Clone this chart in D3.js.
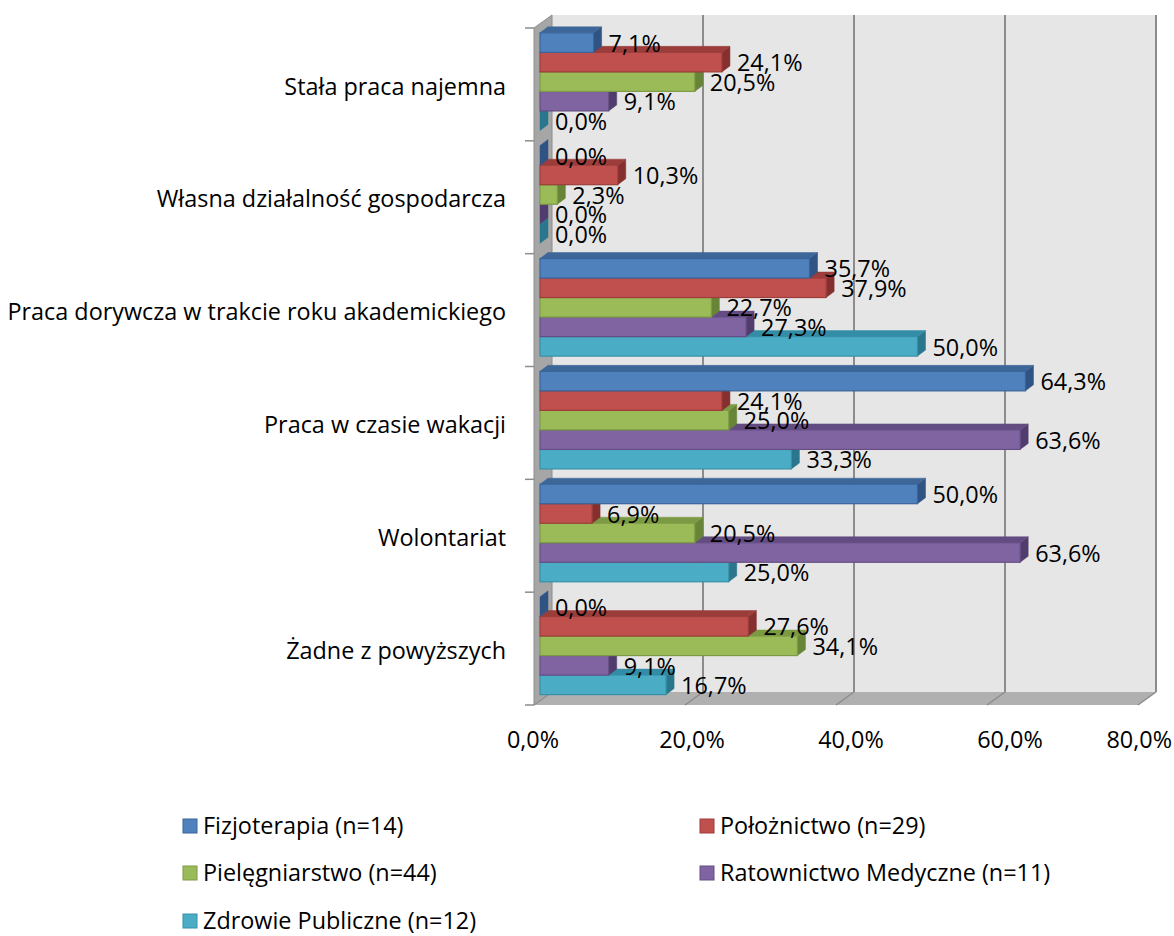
<!DOCTYPE html>
<html>
<head>
<meta charset="utf-8">
<script src="https://cdn.jsdelivr.net/npm/d3@7"></script>
<style>
  html, body { margin: 0; padding: 0; background: #fff; }
  svg text { font-family: "Open Sans", "Noto Sans", sans-serif; fill: #000; }
</style>
</head>
<body>
<svg id="chart" width="1174" height="936"></svg>
<script>
// kategorie (od góry)
const categories = [
  "Stała praca najemna",
  "Własna działalność gospodarcza",
  "Praca dorywcza w trakcie roku akademickiego",
  "Praca w czasie wakacji",
  "Wolontariat",
  "Żadne z powyższych"
];

const seriesNames = [
  "Fizjoterapia (n=14)",
  "Położnictwo (n=29)",
  "Pielęgniarstwo (n=44)",
  "Ratownictwo Medyczne (n=11)",
  "Zdrowie Publiczne (n=12)"
];

// wartości w % dla każdej kategorii
const fizjoterapia = [7.1, 0.0, 35.7, 64.3, 50.0, 0.0];
const poloznictwo = [24.1, 10.3, 37.9, 24.1, 6.9, 27.6];
const pielegniarstwo = [20.5, 2.3, 22.7, 25.0, 20.5, 34.1];
const ratownictwo = [9.1, 0.0, 27.3, 63.6, 63.6, 9.1];
const zdrowiePubliczne = [0.0, 0.0, 50.0, 33.3, 25.0, 16.7];

const xTicks = [0, 20, 40, 60, 80];

const seriesValues = [fizjoterapia, poloznictwo, pielegniarstwo, ratownictwo, zdrowiePubliczne];

// kolory: front, góra, bok
const palette = [
  { front: "#4F81BD", top: "#3D6799", side: "#2F5383", stroke: "#3A659A" },
  { front: "#C0504D", top: "#9B3D3A", side: "#85302E", stroke: "#9C3E3B" },
  { front: "#9BBB59", top: "#7C9A43", side: "#678536", stroke: "#7D9B44" },
  { front: "#8064A2", top: "#634C82", side: "#513D6D", stroke: "#654E84" },
  { front: "#4BACC6", top: "#348DA6", side: "#29768D", stroke: "#3790A8" }
];

const FONT = 23.4;
const svg = d3.select("#chart");

// głębia 3D
const DX = 18, DY = -13;
const BAR_OFF_X = 6, BAR_OFF_Y = -4.3;
const BAR_DX = 8, BAR_DY = -6;

const x = d3.scaleLinear().domain([0, 80]).range([534, 1138]);
const y = d3.scaleBand().domain(categories).range([28, 705]);
const yInner = d3.scaleBand().domain(seriesNames)
  .range([0, y.bandwidth()])
  .paddingInner(0).paddingOuter(0.39).align(0.6);

const top0 = y.range()[0], bottom0 = y.range()[1];

// tylna ściana
svg.append("rect")
  .attr("x", x(0) + DX).attr("y", top0 + DY)
  .attr("width", x(80) - x(0)).attr("height", bottom0 - top0)
  .attr("fill", "#e6e6e6");

// linie siatki na tylnej ścianie
svg.append("g").selectAll("line")
  .data(xTicks.filter(d => d > 0))
  .join("line")
  .attr("x1", d => x(d) + DX).attr("x2", d => x(d) + DX)
  .attr("y1", top0 + DY).attr("y2", bottom0 + DY)
  .attr("stroke", "#8c8c8c").attr("stroke-width", 2);

// podłoga
const floorPts = [[x(0), bottom0], [x(80), bottom0], [x(80) + DX, bottom0 + DY], [x(0) + DX, bottom0 + DY]];
svg.append("polygon")
  .attr("points", floorPts.map(p => p.join(",")).join(" "))
  .attr("fill", "#b0b0b0");

svg.append("g").selectAll("line")
  .data(xTicks)
  .join("line")
  .attr("x1", d => x(d)).attr("y1", bottom0)
  .attr("x2", d => x(d) + DX).attr("y2", bottom0 + DY)
  .attr("stroke", "#8c8c8c").attr("stroke-width", 1.5);

// boczna ściana
const sidePts = [[x(0), top0], [x(0) + DX, top0 + DY], [x(0) + DX, bottom0 + DY], [x(0), bottom0]];
svg.append("polygon")
  .attr("points", sidePts.map(p => p.join(",")).join(" "))
  .attr("fill", "#a6a6a6")
  .attr("stroke", "#8c8c8c").attr("stroke-width", 1);

// znaczniki osi kategorii
const boundaries = categories.map(c => y(c)).concat([bottom0]);
svg.append("g").selectAll("line")
  .data(boundaries)
  .join("line")
  .attr("x1", x(0) - 9).attr("x2", x(0))
  .attr("y1", d => d).attr("y2", d => d)
  .attr("stroke", "#8c8c8c").attr("stroke-width", 1.5);

// dane do słupków
const bars = [];
categories.forEach((cat, ci) => {
  seriesNames.forEach((s, si) => {
    bars.push({ cat, ci, s, si, v: seriesValues[si][ci] });
  });
});

const poly = pts => pts.map(p => p.join(",")).join(" ");

function geom(d) {
  const x0 = x(0) + BAR_OFF_X;
  const x1 = x(d.v) + BAR_OFF_X;
  const y0 = y(d.cat) + yInner(d.s) + BAR_OFF_Y;
  const y1 = y0 + yInner.bandwidth();
  return { x0, x1, y0, y1 };
}

// rysuj od dołu do góry, żeby wyższe słupki zasłaniały górne ściany niższych
const barG = svg.append("g");
const order = bars.slice().sort((a, b) => (a.ci - b.ci) || (b.si - a.si));
order.forEach(d => {
  const g = geom(d);
  const c = palette[d.si];
  const grp = barG.append("g");
  // bok
  grp.append("polygon")
    .attr("points", poly([[g.x1, g.y0], [g.x1 + BAR_DX, g.y0 + BAR_DY], [g.x1 + BAR_DX, g.y1 + BAR_DY], [g.x1, g.y1]]))
    .attr("fill", c.side).attr("stroke", c.side).attr("stroke-width", 0.5);
  // góra
  grp.append("polygon")
    .attr("points", poly([[g.x0, g.y0], [g.x0 + BAR_DX, g.y0 + BAR_DY], [g.x1 + BAR_DX, g.y0 + BAR_DY], [g.x1, g.y0]]))
    .attr("fill", c.top).attr("stroke", c.top).attr("stroke-width", 0.5);
  // przód
  grp.append("rect")
    .attr("x", g.x0).attr("y", g.y0)
    .attr("width", Math.max(0, g.x1 - g.x0)).attr("height", g.y1 - g.y0)
    .attr("fill", c.front).attr("stroke", c.stroke).attr("stroke-width", 1.2);
});

// etykiety danych
const fmt = v => v.toFixed(1).replace(".", ",") + "%";
svg.append("g").selectAll("text")
  .data(bars)
  .join("text")
  .attr("x", d => geom(d).x1 + BAR_DX + 7)
  .attr("y", d => (geom(d).y0 + geom(d).y1) / 2 + 1)
  .attr("dy", "0.35em")
  .attr("font-size", FONT)
  .text(d => fmt(d.v));

// etykiety kategorii
svg.append("g").selectAll("text")
  .data(categories)
  .join("text")
  .attr("x", 506)
  .attr("y", d => y(d) + y.bandwidth() / 2 + 2)
  .attr("dy", "0.35em")
  .attr("text-anchor", "end")
  .attr("font-size", FONT)
  .text(d => d);

// etykiety osi X
const xLabel = d3.scaleLinear().domain([0, 80]).range([533, 1169]);
svg.append("g").selectAll("text")
  .data(xTicks)
  .join("text")
  .attr("font-size", FONT)
  .attr("y", 740)
  .attr("dy", "0.35em")
  .text(d => fmt(d))
  .each(function (d) {
    const w = this.getComputedTextLength();
    let cx = xLabel(d) - w / 2;
    if (cx + w > 1172) cx = 1172 - w;
    d3.select(this).attr("x", cx);
  });

// legenda
const legendPos = [[183, 826], [700, 826], [183, 873], [700, 873], [183, 921]];
const leg = svg.append("g").selectAll("g")
  .data(seriesNames)
  .join("g")
  .attr("transform", (d, i) => `translate(${legendPos[i][0]},${legendPos[i][1]})`);
leg.append("rect")
  .attr("x", 0).attr("y", -7).attr("width", 14).attr("height", 14)
  .attr("fill", (d, i) => palette[i].front)
  .attr("stroke", (d, i) => palette[i].stroke).attr("stroke-width", 1);
leg.append("text")
  .attr("x", 20).attr("y", 0).attr("dy", "0.35em")
  .attr("font-size", FONT)
  .text(d => d);
</script>
</body>
</html>
